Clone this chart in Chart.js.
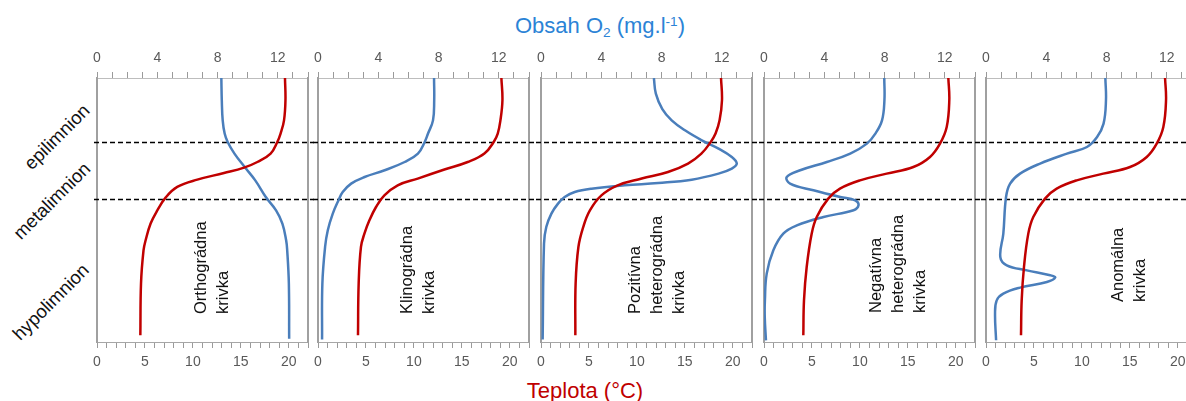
<!DOCTYPE html>
<html lang="sk">
<head>
<meta charset="UTF-8">
<title>Kyslík a teplota</title>
<script src="https://cdn.jsdelivr.net/npm/chart.js"></script>
<style>
  html, body { margin: 0; padding: 0; background: #fff; }
  body { position: relative; width: 1186px; height: 401px; overflow: hidden;
         font-family: "Liberation Sans", Arial, sans-serif; }
  canvas { position: absolute; top: 30px; }
  .axisTitle { position: absolute; font-size: 22px; line-height: 22px; white-space: nowrap;
               transform: translateX(-50%); }
  .axisTitle sub, .axisTitle sup { font-size: 0.62em; line-height: 0; position: relative; vertical-align: baseline; }
  .axisTitle sub { top: 0.3em; }
  .axisTitle sup { top: -0.55em; }
  .layer { position: absolute; font-size: 18.5px; line-height: 22px; white-space: nowrap; color: #111;
           transform: translate(-50%, -50%) rotate(-45deg); }
  .curveName { position: absolute; font-size: 16.5px; line-height: 22px; white-space: nowrap; color: #111;
               transform-origin: 0 0; transform: rotate(-90deg); }
</style>
</head>
<body>
<div class="axisTitle" style="left:600px; top:15px; color:#2B83D6">Obsah O<sub>2</sub> (mg.l<sup>-1</sup>)</div>
<div class="axisTitle" style="left:585px; top:380px; color:#C00000">Teplota (°C)</div>

<div class="layer" style="left:57px; top:137px">epilimnion</div>
<div class="layer" style="left:52px; top:201px">metalimnion</div>
<div class="layer" style="left:51px; top:302px">hypolimnion</div>

<canvas id="p0" width="222" height="346" style="left:92px"></canvas>
<canvas id="p1" width="222" height="346" style="left:313px"></canvas>
<canvas id="p2" width="222" height="346" style="left:536px"></canvas>
<canvas id="p3" width="222" height="346" style="left:759px"></canvas>
<canvas id="p4" width="222" height="346" style="left:981px"></canvas>

<div class="curveName" style="left:189px; top:314px">Orthográdna<br>krivka</div>
<div class="curveName" style="left:395px; top:314px">Klinográdna<br>krivka</div>
<div class="curveName" style="left:623px; top:314px">Pozitívna<br>heterográdna<br>krivka</div>
<div class="curveName" style="left:864px; top:313px">Negatívna<br>heterográdna<br>krivka</div>
<div class="curveName" style="left:1106px; top:302px">Anomálna<br>krivka</div>

<script>
  // hranice vrstiev (hĺbka)
  const layerBounds = [5.33, 10.05];

  // Orthográdna
  const orthoO2Depth = [0, 1.86, 3.53, 4.63, 5.33, 6.3, 7.42, 8.53, 9.92, 11.03, 12.13, 13.52, 14.36, 17.13, 21.72];
  const orthoO2 = [8.25, 8.28, 8.34, 8.47, 8.67, 9.12, 9.8, 10.5, 11.2, 11.88, 12.3, 12.55, 12.62, 12.73, 12.75];
  const orthoTDepth = [0, 1.86, 3.53, 4.63, 5.33, 6.3, 7.0, 7.47, 7.92, 8.47, 9.08, 9.97, 11.03, 12.13, 13.52, 14.36, 17.1, 21.44];
  const orthoT = [19.6, 19.65, 19.5, 19.14, 18.8, 18.1, 16.72, 15.33, 13.24, 10.46, 8.37, 7.15, 6.29, 5.59, 5.07, 4.85, 4.59, 4.52];

  // Klinográdna
  const klinoO2Depth = [0, 1.86, 3.53, 4.63, 5.33, 6.3, 7.0, 7.69, 8.25, 8.8, 9.5, 10.19, 11.3, 12.69, 14.08, 17.13, 21.8];
  const klinoO2 = [7.7, 7.71, 7.63, 7.3, 7.08, 6.63, 5.75, 4.42, 3.09, 2.2, 1.64, 1.36, 0.98, 0.65, 0.47, 0.29, 0.27];
  const klinoTDepth = [0, 1.86, 3.53, 4.63, 5.33, 6.3, 7.0, 7.63, 8.38, 8.94, 9.78, 10.75, 11.86, 12.97, 14.08, 17.13, 21.44];
  const klinoT = [19.12, 19.23, 19.02, 18.74, 18.32, 17.35, 15.61, 13.18, 10.4, 8.31, 6.92, 6.05, 5.36, 4.84, 4.48, 4.24, 4.17];

  // Pozitívna heterográdna
  const posO2Depth = [0, 1.3, 2.6, 3.53, 4.36, 5.19, 5.88, 6.58, 7.13, 7.55, 7.97, 8.47, 8.75, 8.94, 9.22, 9.5, 9.92, 10.47, 11.3, 12.42, 13.8, 21.8];
  const posO2 = [7.49, 7.62, 8.05, 8.67, 9.55, 10.67, 11.78, 12.66, 12.99, 12.66, 11.78, 10.0, 7.78, 5.56, 3.35, 2.24, 1.57, 1.13, 0.69, 0.35, 0.2, 0.11];
  const posTDepth = [0, 1.86, 3.53, 4.63, 5.33, 6.3, 7.13, 7.83, 8.38, 8.94, 9.78, 11.03, 12.42, 14.08, 17.13, 21.44];
  const posT = [18.77, 18.87, 18.62, 18.2, 17.7, 16.72, 15.33, 13.24, 10.5, 8.0, 6.3, 5.1, 4.4, 3.9, 3.61, 3.58];

  // Negatívna heterográdna
  const negO2Depth = [0, 1.86, 3.53, 4.63, 5.47, 6.3, 7.0, 7.69, 8.25, 8.8, 9.36, 9.92, 10.19, 10.61, 11.02, 11.58, 12.28, 12.97, 14.36, 16.3, 18.53, 19.92, 21.86];
  const negO2 = [7.98, 7.99, 7.83, 7.39, 6.83, 5.72, 4.17, 2.4, 1.51, 1.73, 3.28, 5.06, 6.05, 6.27, 5.94, 3.95, 2.18, 1.28, 0.62, 0.18, 0.06, 0.05, 0.13];
  const negTDepth = [0, 1.86, 4.08, 5.47, 6.58, 7.42, 7.97, 8.53, 9.22, 10.05, 11.58, 12.97, 15.75, 18.53, 21.44];
  const negT = [19.22, 19.32, 19.05, 18.35, 17.31, 15.57, 12.79, 10.01, 7.92, 6.7, 5.5, 4.97, 4.45, 4.17, 4.1];

  // Anomálna
  const anomO2Depth = [0, 1.86, 3.8, 4.92, 5.75, 6.3, 7.13, 7.97, 8.8, 9.92, 12.97, 14.92, 15.61, 16.03, 16.44, 16.63, 17.0, 17.47, 17.97, 18.53, 19.63, 21.86];
  const anomO2 = [7.92, 7.96, 7.8, 7.37, 6.7, 5.37, 3.59, 2.26, 1.6, 1.33, 1.15, 0.95, 1.38, 2.71, 4.26, 4.59, 4.04, 2.26, 1.15, 0.71, 0.6, 0.67];
  const anomTDepth = [0, 1.86, 4.08, 5.47, 6.58, 7.42, 7.97, 8.53, 9.22, 10.05, 11.58, 12.97, 15.75, 18.53, 21.44];
  const anomT = [18.67, 18.77, 18.49, 17.8, 16.76, 15.02, 12.23, 9.46, 7.37, 6.15, 4.93, 4.41, 3.96, 3.72, 3.65];

  const o2Ticks = [0, 4, 8, 12];
  const tempTicks = [0, 5, 10, 15, 20];

  const blue = '#4A7EBB';
  const red = '#C00000';
  const fontFamily = '"Liberation Sans", Arial, sans-serif';

  function profile(depths, values) {
    return depths.map((d, i) => ({ x: values[i], y: d }));
  }

  // prerušované čiary medzi vrstvami
  function layerLines(first) {
    return {
      id: 'layerLines',
      beforeDatasetsDraw(chart) {
        let ctx = chart.ctx;
        let y = chart.scales.y;
        let x0 = first ? chart.chartArea.left - 3 : 0;
        ctx.save();
        ctx.setLineDash([5, 3]);
        ctx.strokeStyle = '#000';
        ctx.lineWidth = 1.6;
        layerBounds.forEach(d => {
          let py = Math.round(y.getPixelForValue(d)) + 0.5;
          ctx.beginPath();
          ctx.moveTo(x0, py);
          ctx.lineTo(chart.width, py);
          ctx.stroke();
        });
        ctx.restore();
      }
    };
  }

  function sideAxis(position) {
    return {
      type: 'linear', position: position, reverse: true, min: 0, max: 22,
      ticks: { display: false },
      grid: { display: false },
      border: { display: true, color: '#A0A0A0', width: 2 },
      afterFit: s => { s.width = 0; s.paddingTop = 0; s.paddingBottom = 0; }
    };
  }

  function makePanel(id, o2Depth, o2, tDepth, temp, index) {
    new Chart(document.getElementById(id), {
      type: 'line',
      data: {
        datasets: [{
          label: 'Teplota',
          data: profile(tDepth, temp),
          xAxisID: 'xT', yAxisID: 'y',
          borderColor: red, borderWidth: 2.5,
          pointRadius: 0, tension: 0.4, fill: false
        }, {
          label: 'O2',
          data: profile(o2Depth, o2),
          xAxisID: 'xO2', yAxisID: 'y',
          borderColor: blue, borderWidth: 2.5,
          pointRadius: 0, tension: 0.4, fill: false
        }]
      },
      options: {
        indexAxis: 'y',
        responsive: false,
        animation: false,
        layout: { padding: { left: 5, right: 6, top: 0, bottom: 0 } },
        plugins: { legend: { display: false }, tooltip: { enabled: false } },
        scales: {
          xO2: {
            type: 'linear', position: 'top', min: 0, max: 14,
            ticks: {
              stepSize: 1, autoSkip: false, maxRotation: 0, padding: 5,
              color: '#595959', font: { family: fontFamily, size: 14 },
              callback: v => o2Ticks.includes(v) ? v : ''
            },
            grid: { drawOnChartArea: false, tickLength: 6, color: '#9A9A9A' },
            border: { color: '#BDBDBD', width: 1 },
            afterFit: s => { s.height = 48; s.paddingLeft = 0; s.paddingRight = 0; }
          },
          xT: {
            type: 'linear', position: 'bottom', min: 0, max: 22,
            ticks: {
              stepSize: 1, autoSkip: false, maxRotation: 0, padding: 6,
              color: '#595959', font: { family: fontFamily, size: 14 },
              callback: v => tempTicks.includes(v) ? v : ''
            },
            grid: { drawOnChartArea: false, tickLength: 6, color: '#9A9A9A' },
            border: { color: '#A6A6A6', width: 1 },
            afterFit: s => { s.height = 34; s.paddingLeft = 0; s.paddingRight = 0; }
          },
          y: sideAxis('left'),
          yR: sideAxis('right')
        }
      },
      plugins: [layerLines(index === 0)]
    });
  }

  makePanel('p0', orthoO2Depth, orthoO2, orthoTDepth, orthoT, 0);
  makePanel('p1', klinoO2Depth, klinoO2, klinoTDepth, klinoT, 1);
  makePanel('p2', posO2Depth, posO2, posTDepth, posT, 2);
  makePanel('p3', negO2Depth, negO2, negTDepth, negT, 3);
  makePanel('p4', anomO2Depth, anomO2, anomTDepth, anomT, 4);
</script>
</body>
</html>
